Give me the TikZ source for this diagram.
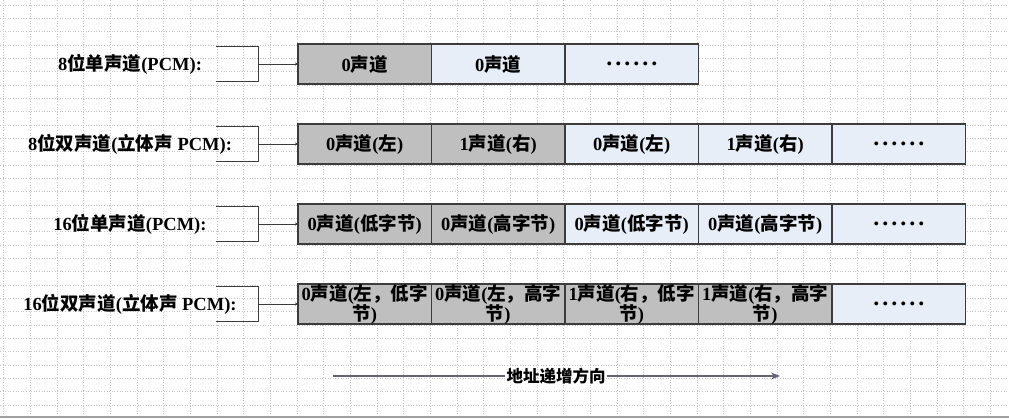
\documentclass[tikz,border=0pt]{standalone}
\usepackage{fontspec}
\setmainfont{Liberation Serif}
\newfontfamily\cjk{Noto Sans CJK SC}
\newcommand{\zh}[1]{{\cjk #1}}
\newcommand{\dotrow}{{\fontsize{24}{24}\selectfont.\kern3pt.\kern3pt.\kern3pt.\kern3pt.\kern3pt.}}
\usetikzlibrary{positioning,arrows.meta}
\definecolor{cellgray}{RGB}{191,191,191}
\definecolor{cellblue}{RGB}{232,238,248}
\definecolor{edgegray}{RGB}{60,60,60}
\definecolor{gridgray}{RGB}{198,198,198}
\definecolor{axisgray}{RGB}{100,100,115}

\begin{document}
\begin{tikzpicture}[x=1pt,y=-1pt]
				\tikzstyle{every node}=[font=\bfseries\fontsize{18.5}{20}\selectfont]
				\tikzstyle{cell}=[draw=edgegray,line width=1.2pt,minimum width=133.5pt,
				minimum height=40pt,inner sep=0pt,outer sep=0pt,align=center]
				\tikzstyle{dark}=[cell,fill=cellgray]
				\tikzstyle{light}=[cell,fill=cellblue]
				\tikzstyle{rowname}=[inner sep=0pt]
				\tikzstyle{brace}=[draw=edgegray,line width=1pt]
				\tikzstyle{link}=[draw=edgegray,line width=1pt,-{Stealth[length=3pt,width=3pt]}]
				\tikzstyle{gridline}=[gridgray,dotted,line width=0.6pt]
				\useasboundingbox (0,0) rectangle (1009,418);
				% background grid
				\foreach \gx in {0,...,37}
					\draw[gridline] (3.5+26.67*\gx,0) -- (3.5+26.67*\gx,414);
				\foreach \gy in {0,...,30}
					\draw[gridline] (0,5+13.33*\gy) -- (1009,5+13.33*\gy);
				\draw[gray!75,line width=2pt] (0,416.5) -- (1009,416.5);
				% row 1
				\node[rowname] (n1) at (130,64) {8\zh{位单声道}(PCM):};
				\node[dark] (a1) at (364.75,64) {0\zh{声道}};
				\node[light,right=0pt of a1] (a2) {0\zh{声道}};
				\node[light,right=0pt of a2] (a3) {\dotrow};
				% row 2
				\node[rowname] (n2) at (130,144) {8\zh{位双声道}(\zh{立体声} PCM):};
				\node[dark] (b1) at (364.75,144) {0\zh{声道}(\zh{左})};
				\node[dark,right=0pt of b1] (b2) {1\zh{声道}(\zh{右})};
				\node[light,right=0pt of b2] (b3) {0\zh{声道}(\zh{左})};
				\node[light,right=0pt of b3] (b4) {1\zh{声道}(\zh{右})};
				\node[light,right=0pt of b4] (b5) {\dotrow};
				% row 3
				\node[rowname] (n3) at (130,224) {16\zh{位单声道}(PCM):};
				\node[dark] (c1) at (364.75,224) {0\zh{声道}(\zh{低字节})};
				\node[dark,right=0pt of c1] (c2) {0\zh{声道}(\zh{高字节})};
				\node[light,right=0pt of c2] (c3) {0\zh{声道}(\zh{低字节})};
				\node[light,right=0pt of c3] (c4) {0\zh{声道}(\zh{高字节})};
				\node[light,right=0pt of c4] (c5) {\dotrow};
				% row 4
				\node[rowname] (n4) at (130,304) {16\zh{位双声道}(\zh{立体声} PCM):};
				\node[dark] (d1) at (364.75,304) {0\zh{声道}(\zh{左，低字}\\\zh{节})};
				\node[dark,right=0pt of d1] (d2) {0\zh{声道}(\zh{左，高字}\\\zh{节})};
				\node[dark,right=0pt of d2] (d3) {1\zh{声道}(\zh{右，低字}\\\zh{节})};
				\node[dark,right=0pt of d3] (d4) {1\zh{声道}(\zh{右，高字}\\\zh{节})};
				\node[light,right=0pt of d4] (d5) {\dotrow};
				% brackets
				\coordinate (j1) at (258,64);
				\coordinate (j2) at (258,144);
				\coordinate (j3) at (258,224);
				\coordinate (j4) at (258,304);
				\draw[brace] (j1) ++(-42,-17.5) -- ++(42,0) -- ++(0,35) -- ++(-42,0);
				\draw[brace] (j2) ++(-42,-17.5) -- ++(42,0) -- ++(0,35) -- ++(-42,0);
				\draw[brace] (j3) ++(-42,-17.5) -- ++(42,0) -- ++(0,35) -- ++(-42,0);
				\draw[brace] (j4) ++(-42,-17.5) -- ++(42,0) -- ++(0,35) -- ++(-42,0);
				\draw[link] (j1) -- (a1);
				\draw[link] (j2) -- (b1);
				\draw[link] (j3) -- (c1);
				\draw[link] (j4) -- (d1);
				% address axis
				\node[font=\bfseries\fontsize{16.5}{18}\selectfont,inner sep=1pt] (dir) at (556,376) {\zh{地址递增方向}};
				\coordinate (from) at (333,376);
				\coordinate (to) at (780,376);
				\draw[axisgray,line width=2pt] (from) -- (dir);
				\draw[axisgray,line width=2pt,-{Stealth[length=9pt,width=7pt]}] (dir) -- (to);
\end{tikzpicture}
\end{document}
